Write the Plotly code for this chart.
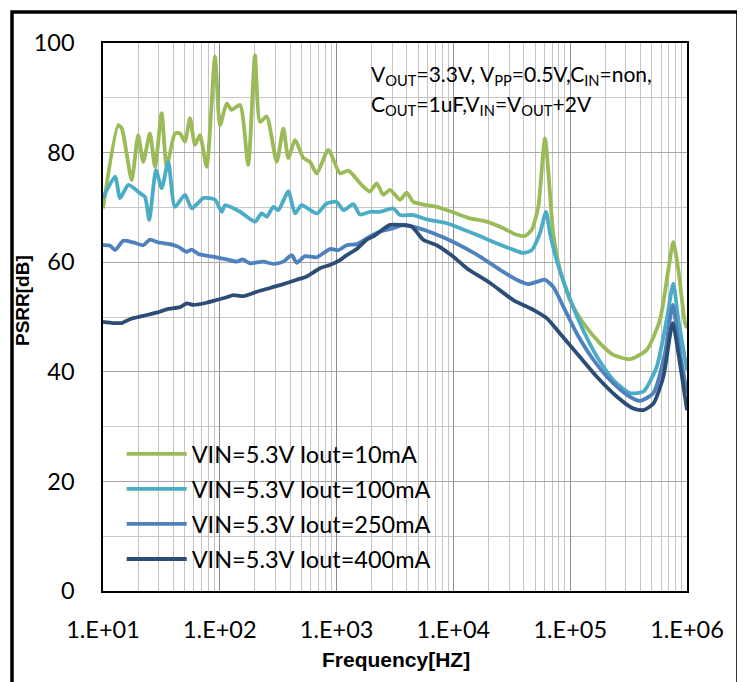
import plotly.graph_objects as go

# ---- data ----
f_10mA = [10, 13.5, 14.5, 17.6, 20, 22.1, 25.2, 27.9, 31.8, 35.1, 41.3, 45.6, 50.3, 55.6, 61.3, 67.6,
          77.2, 91, 100.5, 114.6, 126, 149, 175, 200, 221, 252, 307, 350, 386, 441, 519, 592, 676,
          849, 1069, 1259, 1640, 1930, 2203, 2512, 2866, 3490, 3980, 4540, 5910, 7190, 9680, 13870,
          19280, 26740, 34800, 41000, 46800, 53300, 60800, 71600, 81800, 99600, 129500, 180000,
          234000, 325000, 452000, 587000, 692000, 763000, 843000, 961000, 1000000]
v_10mA = [69.8, 85.0, 84.4, 75.0, 83.2, 78.3, 83.5, 77.4, 87.2, 77.4, 83.5, 83.5, 82.0, 86.3, 81.4, 83.2,
          77.4, 97.5, 85.0, 89.0, 87.8, 88.7, 77.7, 97.8, 85.6, 86.6, 78.3, 84.4, 79.0, 82.3, 79.0, 78.3, 76.2,
          80.5, 76.2, 76.7, 74.1, 72.9, 74.4, 72.3, 73.2, 71.4, 72.7, 71.0, 70.4, 70.1, 69.2, 68.0,
          67.4, 66.2, 65.0, 64.8, 65.9, 70.1, 82.6, 65.3, 58.6, 53.1, 48.9, 45.2,
          43.1, 42.3, 44.0, 49.5, 58.6, 63.7, 58.6, 48.9, 48.0]

f_100mA = [10, 12.7, 14, 16.5, 20.7, 22.9, 24.9, 28.4, 31.8, 36.2, 41.3, 50.3, 57.5, 72.3, 91, 103.8,
           111, 149, 200, 228, 252, 287, 317, 386, 441, 502, 676, 822, 1002, 1143, 1390, 1585, 1930,
           2355, 3060, 3490, 4540, 5910, 8770, 11400, 15850, 22000, 30500, 39700, 46800, 55100, 62100,
           67100, 76500, 93300, 121000, 169000, 234000, 325000, 423000, 550000, 670000, 763000, 843000,
           1000000]
v_100mA = [71.7, 75.6, 71.7, 74.1, 72.6, 71.9, 67.7, 76.8, 73.5, 78.3, 70.1, 72.3, 69.8, 71.7, 71.4, 69.2,
           70.4, 69.2, 67.4, 68.9, 68.3, 70.1, 69.5, 72.9, 68.9, 70.4, 68.9, 70.7, 71.0, 69.5, 70.6, 68.7, 69.2,
           69.2, 69.8, 68.6, 68.6, 67.8, 67.1, 66.2, 65.0, 63.7, 62.5, 61.7, 62.2, 65.3, 69.2,
           65.3, 60.4, 54.9, 48.9, 42.8, 38.5, 36.1, 36.4, 40.9, 49.5, 56.1, 49.5,
           40.3]

f_250mA = [10, 11.5, 12.7, 14.9, 18.2, 22.1, 25.2, 29.7, 37.5, 44.2, 52.1, 57.5, 65.5, 87.9, 114.6, 139.6,
           157, 181.5, 235, 287, 350, 413, 455, 536, 676, 877, 1035, 1222, 1487, 1930, 2355, 3060, 3730,
           4840, 6730, 10000, 15850, 25100, 34800, 43700, 53300, 60800, 71600, 87300, 113800, 158000,
           219000, 305000, 396000, 515000, 648000, 754000, 871000, 1000000]
v_250mA = [63.1, 63.0, 62.2, 63.9, 63.6, 63.1, 64.1, 63.6, 63.3, 62.8, 61.9, 62.3, 61.5, 61.0, 60.5, 60.1,
           60.5, 59.8, 60.1, 59.7, 60.1, 61.3, 59.9, 61.1, 60.9, 62.4, 62.2, 63.1, 63.3, 64.7, 65.6, 66.2, 66.8,
           66.3, 65.3, 63.7, 61.4, 58.6, 56.8, 56.0, 56.5, 56.8, 55.5, 51.9, 47.0, 42.2,
           38.5, 35.8, 34.7, 36.1, 43.4, 52.2, 43.4, 36.1]

f_400mA = [10, 12.2, 14.5, 17, 22.1, 28.8, 35.1, 45.6, 52.1, 59.3, 77.2, 94, 114.6, 130.6, 159, 207, 269,
           350, 455, 555, 721, 877, 1069, 1222, 1487, 1811, 2061, 2866, 3500, 4400, 5520, 7190, 10000,
           13000, 20600, 32600, 48300, 62900, 81800, 113800, 169000, 250000, 347000, 423000, 515000,
           627000, 754000, 843000, 1000000]
v_400mA = [49.1, 48.9, 48.9, 49.6, 50.2, 50.8, 51.4, 51.8, 52.5, 52.2, 52.6, 53.1, 53.6, 54.0, 53.8, 54.6, 55.3,
           56.0, 56.8, 57.4, 58.9, 59.5, 60.4, 61.3, 62.4, 64.1, 64.7, 66.8, 66.8, 66.5, 64.1, 63.1, 61.0,
           58.9, 56.2, 53.1, 51.3, 49.8, 47.0, 43.4, 39.1, 35.5, 33.3, 33.0, 34.2,
           39.1, 48.9, 43.4, 33.0]

series_names = ["VIN=5.3V Iout=10mA", "VIN=5.3V Iout=100mA", "VIN=5.3V Iout=250mA", "VIN=5.3V Iout=400mA"]
series_colors = ["#9BBB59", "#4BACC6", "#4F81BD", "#2C4D75"]
x_tickvals = [1e1, 1e2, 1e3, 1e4, 1e5, 1e6]
x_ticktext = ["1.E+01", "1.E+02", "1.E+03", "1.E+04", "1.E+05", "1.E+06"]
y_tickvals = [0, 20, 40, 60, 80, 100]
note_line1 = "V<sub>OUT</sub>=3.3V, V<sub>PP</sub>=0.5V,C<sub>IN</sub>=non,"
note_line2 = "C<sub>OUT</sub>=1uF,V<sub>IN</sub>=V<sub>OUT</sub>+2V"

FONT = "Lato"

fig = go.Figure()
data = [(f_10mA, v_10mA), (f_100mA, v_100mA), (f_250mA, v_250mA), (f_400mA, v_400mA)]
for (fx, vy), nm, col in zip(data, series_names, series_colors):
    fig.add_trace(go.Scatter(x=fx, y=vy, mode="lines", name=nm, legendgroup=nm,
                             line=dict(color=col, width=3.8, shape="spline", smoothing=0.6)))

fig.update_layout(
    width=745, height=682,
    margin=dict(l=95, r=66, t=35, b=99),
    paper_bgcolor="white", plot_bgcolor="white",
    font=dict(family=FONT, size=23, color="black"),
    showlegend=True,
    legend=dict(x=0.032, y=0.29, xanchor="left", yanchor="top", bgcolor="rgba(0,0,0,0)",
                font=dict(family=FONT, size=23.5, color="black"), itemwidth=60,
                tracegroupgap=1.5),
    xaxis=dict(type="log", range=[1, 6], tickvals=x_tickvals, ticktext=x_ticktext,
               showgrid=True, gridcolor="#8c8c8c", gridwidth=1,
               minor=dict(dtick="D1", showgrid=True, gridcolor="#c4c4c4", gridwidth=1),
               showline=True, linecolor="black", linewidth=1.5, mirror=True,
               ticks="outside", ticklen=17, tickcolor="rgba(0,0,0,0)",
               tickfont=dict(family=FONT, size=23.5), zeroline=False),
    yaxis=dict(range=[0, 100], tickvals=y_tickvals,
               showgrid=True, gridcolor="#a6a6a6", gridwidth=1,
               minor=dict(dtick=10, showgrid=True, gridcolor="#c8c8c8", gridwidth=1),
               showline=True, linecolor="black", linewidth=1.5, mirror=True,
               ticks="outside", ticklen=22, tickcolor="rgba(0,0,0,0)",
               tickfont=dict(family=FONT, size=23.5), zeroline=False),
    shapes=[
        dict(type="rect", xref="paper", yref="paper", x0=0.4486, x1=0.983, y0=0.841, y1=0.987,
             fillcolor="white", line=dict(width=0), layer="between"),
        dict(type="rect", xref="paper", yref="paper", x0=0.002, x1=0.599, y0=0.029, y1=0.303,
             fillcolor="white", line=dict(width=0), layer="between"),
        dict(type="rect", xref="paper", yref="paper", x0=-0.1558, x1=1.0873, y0=-0.2, y1=1.0566,
             line=dict(color="black", width=3.5), fillcolor="rgba(0,0,0,0)", layer="above"),
    ],
    annotations=[
        dict(xref="paper", yref="paper", x=0.4555, y=0.9416, xanchor="left", yanchor="middle",
             showarrow=False, align="left", text=note_line1,
             font=dict(family=FONT, size=21, color="black")),
        dict(xref="paper", yref="paper", x=0.4555, y=0.8869, xanchor="left", yanchor="middle",
             showarrow=False, align="left", text=note_line2,
             font=dict(family=FONT, size=21, color="black")),
        dict(xref="paper", yref="paper", x=0.5017, y=-0.1259, xanchor="center", yanchor="middle",
             showarrow=False, text="<b>Frequency[HZ]</b>",
             font=dict(family="Liberation Sans", size=21, color="black")),
        dict(xref="paper", yref="paper", x=-0.1387, y=0.531, xanchor="center", yanchor="middle",
             showarrow=False, text="<b>PSRR[dB]</b>", textangle=-90,
             font=dict(family="Liberation Sans", size=19, color="black")),
    ],
)

fig.write_html("out.html")
